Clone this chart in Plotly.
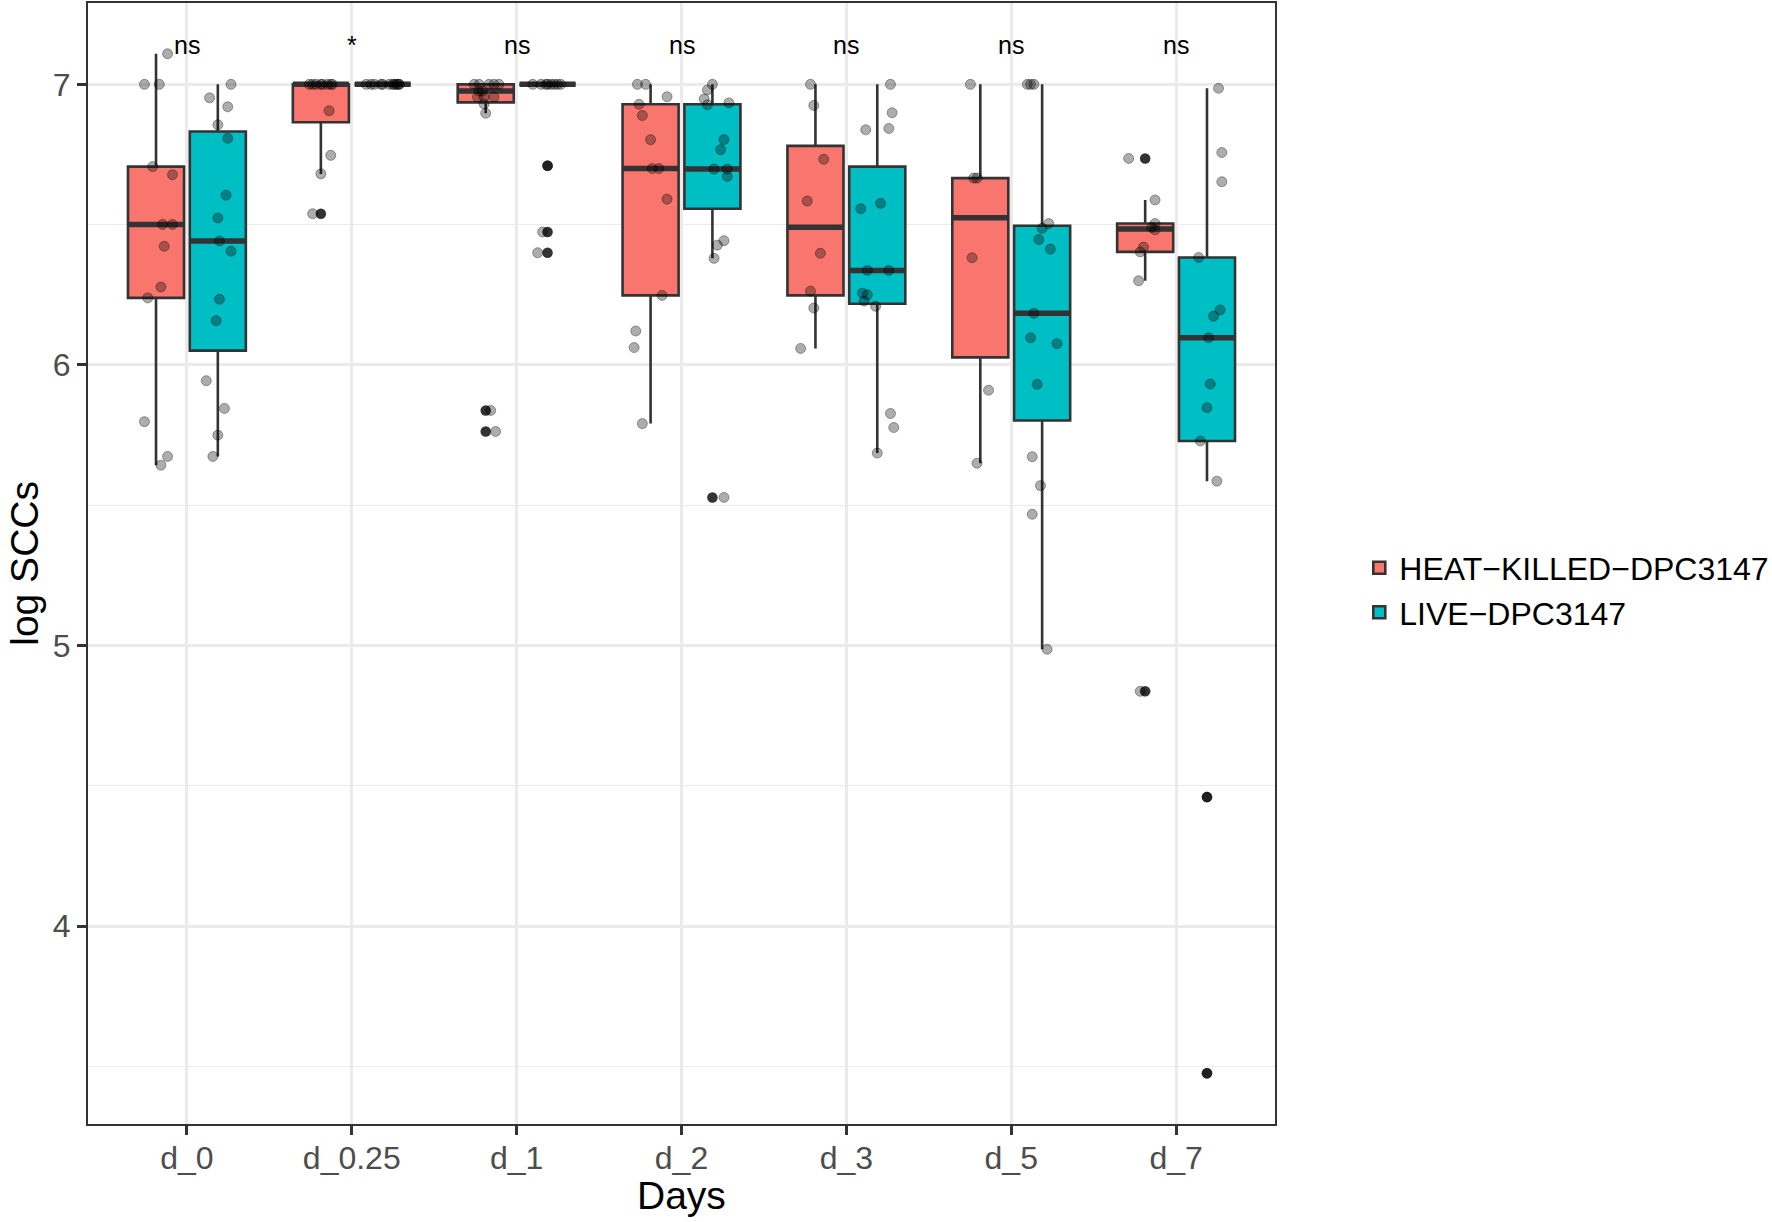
import plotly.graph_objects as go

# ---------------- data ----------------
categories = ["d_0", "d_0.25", "d_1", "d_2", "d_3", "d_5", "d_7"]
group_names = ["HEAT\u2212KILLED\u2212DPC3147", "LIVE\u2212DPC3147"]
signif_labels = ["ns", "*", "ns", "ns", "ns", "ns", "ns"]
signif_y = 7.14

# box statistics (log SCCs)
heat_q1 = [6.239, 6.865, 6.936, 6.248, 6.248, 6.027, 6.403]
heat_median = [6.501, 7.0, 6.976, 6.700, 6.491, 6.525, 6.485]
heat_q3 = [6.707, 7.0, 7.0, 6.929, 6.781, 6.666, 6.504]
heat_lower = [5.643, 6.681, 6.897, 5.791, 6.059, 5.650, 6.300]
heat_upper = [7.109, 7.0, 7.0, 7.0, 7.0, 7.0, 6.588]

live_q1 = [6.051, 7.0, 7.0, 6.557, 6.218, 5.802, 5.729]
live_median = [6.442, 7.0, 7.0, 6.698, 6.337, 6.184, 6.097]
live_q3 = [6.832, 7.0, 7.0, 6.929, 6.707, 6.496, 6.383]
live_lower = [5.674, 7.0, 7.0, 6.380, 5.686, 4.987, 5.586]
live_upper = [7.0, 7.0, 7.0, 7.0, 7.0, 7.0, 6.986]

# boxplot outliers
heat_outlier_day = ["d_0.25", "d_1", "d_1", "d_7", "d_7"]
heat_outlier_value = [6.539, 5.838, 5.763, 6.736, 4.837]
live_outlier_day = ["d_1", "d_1", "d_1", "d_2", "d_7", "d_7"]
live_outlier_value = [6.71, 6.474, 6.40, 5.528, 4.46, 3.476]

heat_point_day = (["d_0"] * 13 + ["d_0.25"] * 12 + ["d_1"] * 14 + ["d_2"] * 13
                  + ["d_3"] * 8 + ["d_5"] * 6 + ["d_7"] * 9)
heat_point_value = [
    7.109, 7.0, 7.0, 6.707, 6.678, 6.501, 6.501, 6.423, 6.278, 6.239, 5.798, 5.674, 5.643,
    7.0, 7.0, 7.0, 7.0, 7.0, 7.0, 7.0, 7.0, 6.906, 6.747, 6.681, 6.539,
    7.0, 7.0, 7.0, 7.0, 7.0, 6.976, 6.976, 6.955, 6.955, 6.955, 6.93, 6.897, 5.838, 5.763,
    7.0, 7.0, 6.956, 6.929, 6.889, 6.803, 6.70, 6.70, 6.591, 6.248, 6.121, 6.062, 5.791,
    7.0, 6.925, 6.733, 6.584, 6.398, 6.263, 6.203, 6.059,
    7.0, 6.666, 6.666, 6.382, 5.910, 5.650,
    6.736, 6.588, 6.504, 6.49, 6.482, 6.42, 6.403, 6.30, 4.837,
]
heat_point_jitter = [
    0.07, -0.07, 0.02, -0.02, 0.10, 0.04, 0.10, 0.05, 0.03, -0.05, -0.07, 0.07, 0.03,
    -0.07, -0.05, -0.03, 0.0, 0.01, 0.04, 0.06, 0.07, 0.05, 0.06, 0.0, -0.05,
    -0.07, -0.04, 0.02, 0.05, 0.08, -0.04, -0.02, -0.05, -0.01, 0.05, -0.01, 0.0, 0.03, 0.06,
    -0.08, -0.03, 0.10, -0.07, -0.05, 0.0, 0.01, 0.05, 0.10, 0.07, -0.09, -0.10, -0.05,
    -0.03, -0.01, 0.05, -0.05, 0.03, -0.03, -0.01, -0.09,
    -0.06, -0.04, -0.02, -0.05, 0.05, -0.02,
    -0.10, 0.06, 0.06, 0.04, 0.06, -0.01, -0.03, -0.04, -0.03,
]

live_point_day = (["d_0"] * 15 + ["d_0.25"] * 12 + ["d_1"] * 11 + ["d_2"] * 14
                  + ["d_3"] * 15 + ["d_5"] * 15 + ["d_7"] * 13)
live_point_value = [
    7.0, 6.952, 6.920, 6.856, 6.808, 6.605, 6.524, 6.442, 6.405, 6.234, 6.158, 5.944, 5.845, 5.750, 5.674,
    7.0, 7.0, 7.0, 7.0, 7.0, 7.0, 7.0, 7.0, 7.0, 7.0, 7.0, 7.0,
    7.0, 7.0, 7.0, 7.0, 7.0, 7.0, 7.0, 7.0, 6.71, 6.474, 6.40,
    7.0, 6.98, 6.948, 6.934, 6.927, 6.803, 6.767, 6.698, 6.698, 6.672, 6.443, 6.427, 6.380, 5.528,
    7.0, 6.899, 6.843, 6.838, 6.576, 6.557, 6.337, 6.337, 6.256, 6.25, 6.228, 6.209, 5.827, 5.777, 5.686,
    7.0, 7.0, 7.0, 6.504, 6.487, 6.447, 6.413, 6.184, 6.097, 6.076, 5.931, 5.673, 5.570, 5.468, 4.987,
    6.986, 6.757, 6.653, 6.383, 6.196, 6.174, 6.097, 5.932, 5.848, 5.729, 5.586, 4.46, 3.476,
]
live_point_jitter = [
    0.08, -0.05, 0.06, 0.0, 0.06, 0.05, 0.0, 0.01, 0.08, 0.01, -0.01, -0.07, 0.04, 0.0, -0.03,
    -0.10, -0.07, -0.05, -0.01, 0.0, 0.04, 0.06, 0.07, 0.08, 0.09, 0.10, 0.10,
    -0.09, -0.04, -0.01, 0.0, 0.02, 0.04, 0.06, 0.08, 0.0, -0.03, -0.06,
    0.0, -0.03, -0.05, 0.10, -0.03, 0.07, 0.05, 0.01, 0.09, 0.09, 0.07, 0.03, 0.01, 0.07,
    0.08, 0.09, 0.07, -0.07, 0.02, -0.10, -0.06, 0.07, -0.09, -0.06, -0.08, -0.01, 0.08, 0.10, 0.0,
    -0.09, -0.07, -0.05, 0.04, 0.0, -0.02, 0.05, -0.05, -0.07, 0.09, -0.03, -0.06, -0.01, -0.06, 0.03,
    0.07, 0.09, 0.09, -0.05, 0.08, 0.04, 0.01, 0.02, 0.0, -0.04, 0.06, 0.0, 0.0,
]

y_ticks = [4, 5, 6, 7]
y_minor = [3.5, 4.5, 5.5, 6.5]

# ---------------- styling ----------------
FONT = "Liberation Sans, Arial, Helvetica, sans-serif"
HEAT_FILL = "#F8766D"
LIVE_FILL = "#00BFC4"
EDGE = "#333333"
DODGE = 0.1875
BOX_W = 0.34

pos = {c: i + 1 for i, c in enumerate(categories)}

fig = go.Figure()

groups = [
    (group_names[0], HEAT_FILL, -DODGE, heat_q1, heat_median, heat_q3, heat_lower, heat_upper,
     heat_outlier_day, heat_outlier_value, heat_point_day, heat_point_value, heat_point_jitter),
    (group_names[1], LIVE_FILL, DODGE, live_q1, live_median, live_q3, live_lower, live_upper,
     live_outlier_day, live_outlier_value, live_point_day, live_point_value, live_point_jitter),
]

# boxes
for (name, fill, off, q1, med, q3, lo, up, od, ov, pd_, pv, pj) in groups:
    xs = [pos[c] + off for c in categories]
    fig.add_trace(go.Box(
        x=xs, q1=q1, median=med, q3=q3, lowerfence=lo, upperfence=up,
        name=name, fillcolor=fill, line=dict(color=EDGE, width=2.6),
        width=BOX_W, whiskerwidth=0, boxpoints=False, hoverinfo="skip",
        showlegend=True,
    ))

# thick median bars
for (name, fill, off, q1, med, q3, lo, up, od, ov, pd_, pv, pj) in groups:
    mx, my = [], []
    for c, m in zip(categories, med):
        x0 = pos[c] + off
        mx += [x0 - BOX_W / 2, x0 + BOX_W / 2, None]
        my += [m, m, None]
    fig.add_trace(go.Scatter(x=mx, y=my, mode="lines",
                             line=dict(color=EDGE, width=5.5),
                             showlegend=False, hoverinfo="skip"))

# outliers
for (name, fill, off, q1, med, q3, lo, up, od, ov, pd_, pv, pj) in groups:
    fig.add_trace(go.Scatter(
        x=[pos[c] + off for c in od], y=ov, mode="markers",
        marker=dict(color=EDGE, size=10.5, line=dict(width=0)),
        showlegend=False, hoverinfo="skip"))

# jittered observations
for (name, fill, off, q1, med, q3, lo, up, od, ov, pd_, pv, pj) in groups:
    fig.add_trace(go.Scatter(
        x=[pos[c] + off + j for c, j in zip(pd_, pj)], y=pv, mode="markers",
        marker=dict(color="rgba(0,0,0,0.32)", size=10,
                    line=dict(color="rgba(0,0,0,0.35)", width=1)),
        showlegend=False, hoverinfo="y"))

# significance labels
for c, lab in zip(categories, signif_labels):
    fig.add_annotation(x=pos[c], y=signif_y, xref="x", yref="y", text=lab,
                       showarrow=False, font=dict(family=FONT, size=25, color="black"),
                       yanchor="middle")

# axis titles
fig.add_annotation(text="Days", xref="paper", yref="paper", x=0.5, y=-0.064,
                   showarrow=False, yanchor="middle",
                   font=dict(family=FONT, size=39, color="black"))
fig.add_annotation(text="log SCCs", xref="paper", yref="paper", x=-0.0735, y=0.5,
                   showarrow=False, textangle=-90, xanchor="left",
                   font=dict(family=FONT, size=39, color="black"))

fig.update_layout(
    width=1772, height=1222,
    margin=dict(l=88, r=497, t=3, b=98, autoexpand=False),
    paper_bgcolor="white", plot_bgcolor="white",
    boxmode="overlay",
    font=dict(family=FONT, color="black"),
    legend=dict(x=1.071, y=0.476, xanchor="left", yanchor="middle",
                font=dict(family=FONT, size=32, color="black"),
                bgcolor="rgba(0,0,0,0)", tracegroupgap=0),
    xaxis=dict(
        range=[0.4, 7.6], tickmode="array",
        tickvals=[pos[c] for c in categories], ticktext=categories,
        showgrid=True, gridcolor="#EBEBEB", gridwidth=2.8, zeroline=False,
        showline=True, mirror=True, linecolor=EDGE, linewidth=2.2,
        ticks="outside", ticklen=9, tickwidth=2.5, tickcolor=EDGE,
        tickfont=dict(family=FONT, size=32, color="#4D4D4D"),
        ticklabelstandoff=-5,
        automargin=False,
    ),
    yaxis=dict(
        range=[3.295, 7.29], tickmode="array", tickvals=y_ticks,
        ticktext=[str(t) for t in y_ticks],
        showgrid=True, gridcolor="#EBEBEB", gridwidth=2.8, zeroline=False,
        minor=dict(tickmode="array", tickvals=y_minor, showgrid=True,
                   gridcolor="#EBEBEB", gridwidth=1.4, ticks=""),
        showline=True, mirror=True, linecolor=EDGE, linewidth=2.2,
        ticks="outside", ticklen=9, tickwidth=2.5, tickcolor=EDGE,
        tickfont=dict(family=FONT, size=32, color="#4D4D4D"),
        automargin=False,
    ),
)

fig.write_html("out.html", config={"displayModeBar": False},
               post_script="document.body.style.margin='0px';")
